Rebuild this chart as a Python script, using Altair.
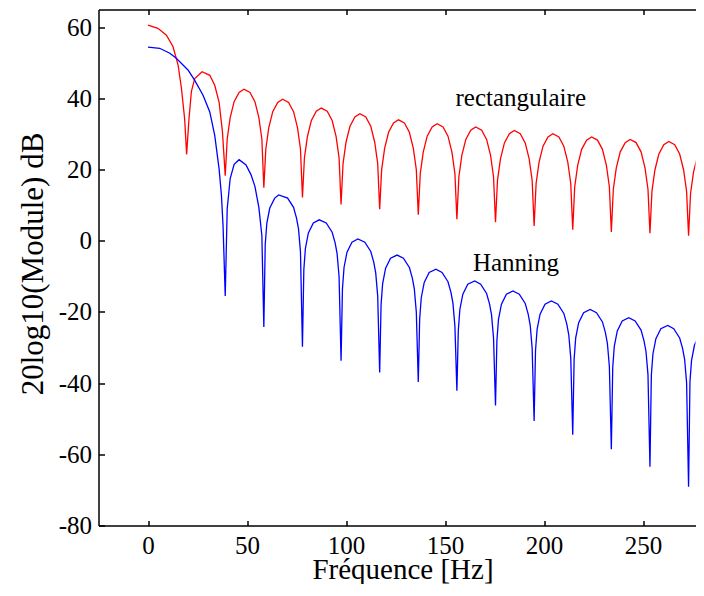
import altair as alt
import pandas as pd

# Rectangular window spectrum (Hz, dB)
red_f = [0, 5, 9.3, 12.6, 15.2, 16.9, 18.5, 19.5,
         20.7, 21.9, 23.6, 27.3, 31.2, 33.7, 35.9, 37.6, 39,
         40, 41.5, 43.5, 46, 48.5, 51.5, 54, 56, 57.5, 58.5,
         59.5, 61, 63, 65.5, 68, 71, 73.5, 75.5, 77, 78,
         79, 80.5, 82.5, 85, 87.5, 90.5, 93, 95, 96.5, 97.5,
         98.5, 100, 102, 104.5, 107, 110, 112.5, 114.5, 116, 117,
         118, 119.5, 121.5, 124, 126.5, 129.5, 132, 134, 135.5, 136.5,
         137.5, 139, 141, 143.5, 146, 149, 151.5, 153.5, 155, 156,
         157, 158.5, 160.5, 163, 165.5, 168.5, 171, 173, 174.5, 175.5,
         176.5, 178, 180, 182.5, 185, 188, 190.5, 192.5, 194, 195,
         196, 197.5, 199.5, 202, 204.5, 207.5, 210, 212, 213.5, 214.5,
         215.5, 217, 219, 221.5, 224, 227, 229.5, 231.5, 233, 234,
         235, 236.5, 238.5, 241, 243.5, 246.5, 249, 251, 252.5, 253.5,
         254.5, 256, 258, 260.5, 263, 266, 268.5, 270.5, 272, 273,
         274, 275.5, 277.5, 280, 282.5]
red_db = [60.6, 59.7, 57.8, 54.6, 49.4, 42.8, 34.3, 24.3,
          34.3, 41.9, 45.6, 47.5, 46.5, 43.7, 39.0, 30.6, 18.3,
          28.6, 34.6, 39.1, 41.7, 42.6, 41.7, 39.1, 34.6, 28.6, 14.9,
          25.8, 31.8, 36.3, 38.9, 39.8, 38.9, 36.3, 31.8, 25.8, 12.2,
          23.3, 29.3, 33.8, 36.4, 37.3, 36.4, 33.8, 29.3, 23.3, 10.2,
          21.7, 27.7, 32.2, 34.8, 35.7, 34.8, 32.2, 27.7, 21.7, 8.9,
          20.0, 26.0, 30.5, 33.1, 34.0, 33.1, 30.5, 26.0, 20.0, 7.3,
          18.9, 24.9, 29.4, 32.0, 32.9, 32.0, 29.4, 24.9, 18.9, 6.1,
          18.0, 24.0, 28.5, 31.1, 32.0, 31.1, 28.5, 24.0, 18.0, 5.2,
          17.0, 23.0, 27.5, 30.1, 31.0, 30.1, 27.5, 23.0, 17.0, 4.2,
          16.1, 22.1, 26.6, 29.2, 30.1, 29.2, 26.6, 22.1, 16.1, 3.1,
          15.2, 21.2, 25.7, 28.3, 29.2, 28.3, 25.7, 21.2, 15.2, 2.5,
          14.5, 20.5, 25.0, 27.6, 28.5, 27.6, 25.0, 20.5, 14.5, 2.1,
          13.9, 19.9, 24.4, 27.0, 27.9, 27.0, 24.4, 19.9, 13.9, 1.4,
          13.3, 19.3, 23.8, 26.4, 27.3]

# Hanning window spectrum (Hz, dB)
blue_f = [0, 5.9, 11, 14.3, 20.2, 23.6, 27.8, 31.2, 33.7, 35.9, 37.1, 37.9, 39,
          40, 41.5, 43.5, 46, 49.5, 52, 54, 56, 57.5, 58.5,
          59.2, 60, 61.5, 64, 66, 70.5, 73.5, 75, 76, 77, 78,
          78.7, 79.5, 81, 83.5, 86.5, 90, 93, 94.5, 95.5, 96.5, 97.5,
          98.2, 99, 100.5, 103, 106, 109.5, 112.5, 114, 115, 116, 117,
          117.7, 118.5, 120, 122.5, 125.8, 129, 132, 133.5, 134.5, 135.5, 136.5,
          137.2, 138, 139.5, 142, 145.4, 148.5, 151.5, 153, 154, 155, 156,
          156.7, 157.5, 159, 161.5, 165, 168, 171, 172.5, 173.5, 174.5, 175.5,
          176.2, 177, 178.5, 181, 184.3, 187.5, 190.5, 192, 193, 194, 195,
          195.7, 196.5, 198, 200.5, 203.7, 207, 210, 211.5, 212.5, 213.5, 214.5,
          215.2, 216, 217.5, 220, 223.3, 226.5, 229.5, 231, 232, 233, 234,
          234.7, 235.5, 237, 239.5, 242.8, 246, 249, 250.5, 251.5, 252.5, 253.5,
          254.2, 255, 256.5, 259, 262.5, 265.5, 268.5, 270, 271, 272, 273,
          273.7, 274.5, 276, 278.5, 281.5, 284]
blue_db = [54.4, 54.1, 52.7, 51.3, 48.0, 45.1, 40.9, 36.2, 29.6, 20.2, 12.7, 4.2, -15.5,
           9.0, 17.5, 21.5, 22.8, 21.3, 18.6, 15.3, 9.3, 1.5, -24.2,
           -1.1, 4.9, 9.2, 12.0, 12.9, 12.0, 9.4, 6.4, 3.4, -3.1, -29.8,
           -8.1, -2.1, 2.2, 5.0, 5.9, 5.0, 2.4, -0.6, -3.6, -10.1, -33.7,
           -13.5, -7.5, -3.2, -0.4, 0.5, -0.4, -3.0, -6.0, -9.0, -15.5, -37.0,
           -18.0, -12.0, -7.7, -4.9, -4.0, -4.9, -7.5, -10.5, -13.5, -20.0, -39.7,
           -22.0, -16.0, -11.7, -8.9, -8.0, -8.9, -11.5, -14.5, -17.5, -24.0, -42.1,
           -25.3, -19.3, -15.0, -12.2, -11.3, -12.2, -14.8, -17.8, -20.8, -27.3, -46.3,
           -28.1, -22.1, -17.8, -15.0, -14.1, -15.0, -17.6, -20.6, -23.6, -30.1, -50.6,
           -30.9, -24.9, -20.6, -17.8, -16.9, -17.8, -20.4, -23.4, -26.4, -32.9, -54.5,
           -33.3, -27.3, -23.0, -20.2, -19.3, -20.2, -22.8, -25.8, -28.8, -35.3, -58.6,
           -35.6, -29.6, -25.3, -22.5, -21.6, -22.5, -25.1, -28.1, -31.1, -37.6, -63.5,
           -37.8, -31.8, -27.5, -24.7, -23.8, -24.7, -27.3, -30.3, -33.3, -39.8, -69.1,
           -39.6, -33.6, -29.3, -26.5, -25.6, -26.0]

series_names = ["rectangulaire", "Hanning"]
series_colors = ["#ff0000", "#0000ff"]

label_text = ["rectangulaire", "Hanning"]
label_f = [155.3, 164.1]
label_db = [38.0, -8.5]

x_ticks = [0, 50, 100, 150, 200, 250]
y_ticks = [-80, -60, -40, -20, 0, 20, 40, 60]

df = pd.concat([
    pd.DataFrame({"f": red_f, "db": red_db, "serie": series_names[0]}),
    pd.DataFrame({"f": blue_f, "db": blue_db, "serie": series_names[1]}),
], ignore_index=True)
lab_df = pd.DataFrame({"f": label_f, "db": label_db, "label": label_text})

W, H = 597, 516
FONT = "Liberation Serif"
xs = alt.Scale(domain=[-25, 276.5], nice=False, zero=False)
ys = alt.Scale(domain=[-80, 65], nice=False, zero=False)

lines = alt.Chart(df).mark_line(strokeWidth=1.3, clip=True).encode(
    x=alt.X("f:Q", scale=xs, axis=alt.Axis(
        orient="bottom", values=x_ticks, ticks=False, tickSize=0, domain=True,
        domainColor="black", domainWidth=1.5, grid=False, labelFont=FONT,
        labelFontSize=25, labelColor="black", labelPadding=8, labelFlush=False,
        labelExpr="'' + datum.value",
        title="Fréquence [Hz]", titleFont=FONT, titleFontSize=29,
        titleFontWeight="normal", titleColor="black", titleBaseline="alphabetic",
        titleAlign="center", titleX=304, titleY=52.5)),
    y=alt.Y("db:Q", scale=ys, axis=alt.Axis(
        orient="left", values=y_ticks, ticks=False, tickSize=0, domain=True,
        domainColor="black", domainWidth=1.5, grid=False, labelFont=FONT,
        labelFontSize=25, labelColor="black", labelPadding=7, labelFlush=False,
        labelExpr="'' + datum.value",
        title="20log10(Module) dB", titleFont=FONT, titleFontSize=31,
        titleFontWeight="normal", titleColor="black", titleBaseline="alphabetic",
        titleAlign="center", titleAngle=270, titleX=-56.5, titleY=254)),
    color=alt.Color("serie:N", scale=alt.Scale(domain=series_names, range=series_colors),
                    legend=None),
    detail="serie:N",
)

labels = alt.Chart(lab_df).mark_text(
    align="left", baseline="alphabetic", font=FONT, fontSize=25, color="black"
).encode(
    x=alt.X("f:Q", scale=xs, axis=None),
    y=alt.Y("db:Q", scale=ys, axis=None),
    text="label:N",
)

# inward ticks: bottom (pointing up) and left (pointing right)
ticks_a = alt.Chart(df).mark_point(opacity=0, clip=True).encode(
    x=alt.X("f:Q", scale=xs, axis=alt.Axis(
        orient="top", offset=-H, values=x_ticks, labels=False, domain=False,
        ticks=True, tickSize=5, tickColor="black", tickWidth=1.5, grid=False, title="")),
    y=alt.Y("db:Q", scale=ys, axis=alt.Axis(
        orient="right", offset=-W, values=y_ticks, labels=False, domain=False,
        ticks=True, tickSize=6, tickColor="black", tickWidth=1.5, grid=False, title="")),
)

# top frame line with ticks pointing down
frame_top = alt.Chart(df).mark_point(opacity=0, clip=True).encode(
    x=alt.X("f:Q", scale=xs, axis=alt.Axis(
        orient="bottom", offset=-H, values=x_ticks, labels=False, domain=True,
        domainColor="black", domainWidth=1.5, ticks=True, tickSize=5,
        tickColor="black", tickWidth=1.5, grid=False, title="")),
    y=alt.Y("db:Q", scale=ys, axis=None),
)

chart = alt.layer(lines, labels, ticks_a, frame_top).resolve_axis(
    x="independent", y="independent"
).properties(
    width=W, height=H,
    autosize=alt.AutoSizeParams(type="none"),
    padding={"left": 90.5, "top": 1.5, "right": 0.5, "bottom": 58.5},
    background="white",
).configure(font=FONT).configure_view(strokeWidth=0)

chart.save("out.html", embed_options={"renderer": "svg", "actions": False})
